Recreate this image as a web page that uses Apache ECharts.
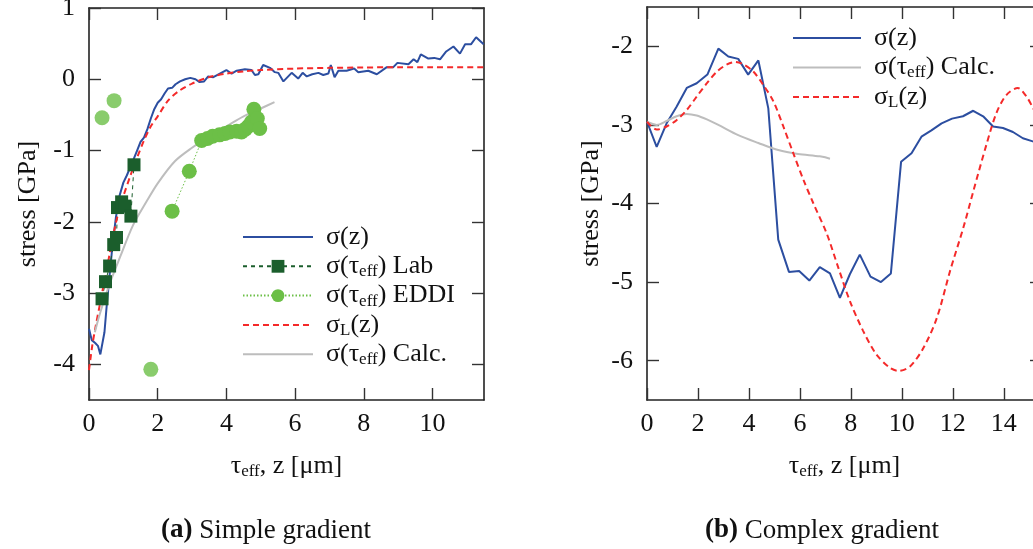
<!DOCTYPE html>
<html><head><meta charset="utf-8">
<script src="https://cdn.jsdelivr.net/npm/echarts@6/dist/echarts.min.js"></script>
<style>html,body{margin:0;padding:0;background:#fff}#c{width:1033px;height:549px}</style>
</head><body><div id="c"></div>
<script>
// ---------- Panel (a): Simple gradient ----------
const aTicksX = [0, 2, 4, 6, 8, 10];
const aTicksY = [-4, -3, -2, -1, 0, 1];

const aSigZx = [0,0.08,0.18,0.26,0.33,0.45,0.52,0.6,0.68,0.78,0.88,1.0,1.1,1.25,1.4,1.5,1.6,1.7,1.8,1.9,2.0,2.1,2.2,2.3,2.42,2.52,2.65,2.8,2.95,3.1,3.22,3.35,3.47,3.62,3.81,4.0,4.15,4.3,4.54,4.73,4.83,4.93,5.07,5.27,5.41,5.51,5.66,5.9,6.09,6.22,6.34,6.5,6.68,6.82,6.97,7.04,7.15,7.26,7.5,7.72,7.84,8.13,8.38,8.67,8.86,8.98,9.3,9.45,9.56,9.66,9.88,10.05,10.22,10.4,10.61,10.8,10.95,11.12,11.27,11.49];
const aSigZy = [-3.5,-3.66,-3.7,-3.74,-3.86,-3.55,-3.15,-2.75,-2.35,-1.95,-1.65,-1.45,-1.35,-1.18,-1.0,-0.88,-0.82,-0.7,-0.55,-0.42,-0.33,-0.28,-0.2,-0.13,-0.12,-0.07,-0.03,0.0,0.02,0.0,-0.04,-0.03,0.04,0.03,0.08,0.13,0.08,0.12,0.14,0.13,0.06,0.07,0.2,0.16,0.1,0.09,-0.03,0.09,0.01,0.09,0.04,0.07,0.09,0.06,0.08,0.2,0.03,0.12,0.12,0.15,0.1,0.12,0.07,0.17,0.17,0.23,0.21,0.28,0.24,0.35,0.29,0.3,0.28,0.39,0.46,0.36,0.49,0.49,0.59,0.49];

const aLabX = [0.38,0.48,0.6,0.72,0.8,0.83,0.95,1.05,1.22,1.31];
const aLabY = [-3.08,-2.84,-2.62,-2.32,-2.22,-1.8,-1.72,-1.78,-1.92,-1.2];

const aEddiX = [2.42,2.92,3.28,3.45,3.6,3.8,3.96,4.1,4.3,4.44,4.55,4.64,4.73,4.8,4.9,4.97];
const aEddiY = [-1.85,-1.29,-0.86,-0.83,-0.8,-0.78,-0.76,-0.74,-0.73,-0.74,-0.7,-0.66,-0.6,-0.42,-0.55,-0.69];
const aEddiOutX = [0.38,0.73,1.8];
const aEddiOutY = [-0.54,-0.3,-4.07];

const aSigLx = [0,0.1,0.2,0.3,0.4,0.5,0.6,0.7,0.8,0.9,1.0,1.2,1.4,1.6,1.8,2.0,2.3,2.6,3.0,3.5,4.0,4.5,5,6,7,8,9,10,11.5];
const aSigLy = [-4.08,-3.72,-3.45,-3.2,-2.95,-2.72,-2.45,-2.2,-1.98,-1.8,-1.64,-1.36,-1.1,-0.86,-0.66,-0.52,-0.3,-0.17,-0.06,0.03,0.08,0.11,0.13,0.15,0.16,0.165,0.17,0.17,0.17];

const aCalcX = [0.17,0.31,0.6,0.9,1.28,1.67,2.0,2.5,3.0,3.5,4.0,4.5,5.0,5.4];
const aCalcY = [-3.55,-3.3,-2.87,-2.5,-2.05,-1.72,-1.46,-1.15,-0.96,-0.8,-0.66,-0.52,-0.41,-0.32];

// ---------- Panel (b): Complex gradient ----------
const bTicksX = [0, 2, 4, 6, 8, 10, 12, 14];
const bTicksY = [-6, -5, -4, -3, -2];

const bSigZx = [0,0.38,0.77,1.16,1.56,1.95,2.37,2.8,3.19,3.58,3.97,4.37,4.76,5.15,5.57,5.97,6.37,6.78,7.18,7.57,7.96,8.35,8.77,9.18,9.57,9.97,10.38,10.77,11.16,11.56,11.97,12.4,12.8,13.19,13.58,13.97,14.36,14.75,15.14,15.5];
const bSigZy = [-2.96,-3.28,-2.98,-2.77,-2.53,-2.47,-2.36,-2.03,-2.13,-2.16,-2.36,-2.18,-2.79,-4.46,-4.87,-4.86,-4.98,-4.81,-4.89,-5.2,-4.9,-4.65,-4.93,-5.0,-4.89,-3.47,-3.36,-3.15,-3.07,-2.98,-2.92,-2.89,-2.82,-2.89,-3.02,-3.04,-3.09,-3.17,-3.21,-3.25];

const bCalcX = [0,0.38,0.77,1.16,1.56,1.95,2.35,2.8,3.58,4.37,5.15,5.93,6.78,7.18];
const bCalcY = [-2.96,-3.0,-2.95,-2.89,-2.86,-2.88,-2.93,-3.0,-3.13,-3.23,-3.32,-3.37,-3.4,-3.43];

const bSigLx = [0,0.38,0.77,1.16,1.56,1.95,2.35,2.75,3.14,3.46,3.78,4.17,4.56,4.96,5.35,5.74,6.14,6.53,7.05,7.5,7.96,8.48,9.0,9.53,9.86,10.33,10.86,11.38,11.9,12.42,12.8,13.32,13.71,14.1,14.55,14.89,15.14,15.5];
const bSigLy = [-2.96,-3.06,-3.02,-2.94,-2.81,-2.64,-2.47,-2.32,-2.23,-2.2,-2.23,-2.32,-2.49,-2.7,-3.02,-3.36,-3.7,-4.0,-4.38,-4.81,-5.24,-5.62,-5.92,-6.09,-6.13,-6.07,-5.83,-5.45,-4.85,-4.3,-3.85,-3.25,-2.85,-2.62,-2.53,-2.64,-2.78,-3.0];

// ---------- names ----------
const N_Z = 'σ(z)', N_LAB = 'σ(τeff) Lab', N_EDDI = 'σ(τeff) EDDI', N_L = 'σL(z)', N_CALC = 'σ(τeff) Calc.';
const legendRich = {
  [N_Z]: 'σ(z)',
  [N_LAB]: 'σ(τ{s|eff}) Lab',
  [N_EDDI]: 'σ(τ{s|eff}) EDDI',
  [N_L]: 'σ{s|L}(z)',
  [N_CALC]: 'σ(τ{s|eff}) Calc.'
};

const FONT = '"Liberation Serif", "DejaVu Serif", serif';
const FS = 26;
const TXT = '#111';
const C_BLUE = '#2c4ea0', C_RED = '#f42a2a', C_GRAY = '#bdbdbd', C_DG = '#1b5e2c', C_LG = '#6cbf47';

const zip = (xs, ys) => xs.map((x, i) => [x, ys[i]]);
const subRich = {
  a: { fontFamily: FONT, fontSize: FS, lineHeight: 28, color: TXT },
  s: { fontFamily: FONT, fontSize: 17, lineHeight: 15, verticalAlign: 'bottom', color: TXT }
};
const boxLine = { show: true, onZero: false, lineStyle: { color: '#222', width: 1.6 } };
const tickStyle = { color: '#333', width: 1.4 };

function xAxisPair(gi, max, ticks) {
  const common = {
    type: 'value', gridIndex: gi, min: 0, max: max,
    axisLine: boxLine, splitLine: { show: false }
  };
  return [
    Object.assign({}, common, {
      position: 'bottom',
      axisTick: { show: true, inside: true, length: 12, customValues: ticks, lineStyle: tickStyle },
      axisLabel: { show: true, customValues: ticks, fontFamily: FONT, fontSize: FS, color: TXT, margin: 11 },
      name: '{a|τ}{s|eff}{a|, z [μm]}', nameLocation: 'middle', nameGap: 52,
      nameTextStyle: { fontFamily: FONT, fontSize: FS, color: TXT, rich: subRich }
    }),
    Object.assign({}, common, {
      position: 'top',
      axisTick: { show: true, inside: true, length: 12, customValues: ticks, lineStyle: tickStyle },
      axisLabel: { show: false }
    })
  ];
}
function yAxisPair(gi, min, max, ticks, nameGap) {
  const common = {
    type: 'value', gridIndex: gi, min: min, max: max,
    axisLine: boxLine, splitLine: { show: false }
  };
  return [
    Object.assign({}, common, {
      position: 'left',
      axisTick: { show: true, inside: true, length: 12, customValues: ticks, lineStyle: tickStyle },
      axisLabel: { show: true, customValues: ticks, fontFamily: FONT, fontSize: FS, color: TXT, margin: 14 },
      name: 'stress [GPa]', nameLocation: 'middle', nameGap: nameGap,
      nameTextStyle: { fontFamily: FONT, fontSize: FS, color: TXT }
    }),
    Object.assign({}, common, {
      position: 'right',
      axisTick: { show: true, inside: true, length: 12, customValues: ticks, lineStyle: tickStyle },
      axisLabel: { show: false }
    })
  ];
}

const legendText = { fontFamily: FONT, fontSize: FS, color: TXT, lineHeight: 28, padding: [0, 0, 0, 8], rich: subRich };

const captionStyle = { fontFamily: FONT, fontSize: 27, fontWeight: 'normal', color: TXT,
  rich: { b: { fontFamily: FONT, fontSize: 27, fontWeight: 'bold', color: TXT } } };

const option = {
  animation: false,
  backgroundColor: '#fff',
  title: [
    { text: '{b|(a)} Simple gradient', left: 161, top: 517, padding: 0, textStyle: captionStyle },
    { text: '{b|(b)} Complex gradient', left: 705, top: 517, padding: 0, textStyle: captionStyle }
  ],
  grid: [
    { left: 89, top: 8, width: 395, height: 392, outerBoundsMode: 'none' },
    { left: 647, top: 7, width: 395, height: 393, outerBoundsMode: 'none' }
  ],
  xAxis: [].concat(xAxisPair(0, 11.5, aTicksX), xAxisPair(1, 15.5, bTicksX)),
  yAxis: [].concat(yAxisPair(0, -4.5, 1, aTicksY, 48), yAxisPair(1, -6.5, -1.5, bTicksY, 43)),
  legend: [
    { left: 242, top: 223, padding: 0, orient: 'vertical', itemWidth: 70, itemHeight: 16, itemGap: 1.3,
      selectedMode: false, textStyle: legendText,
      formatter: n => legendRich[n],
      data: [
        { name: N_Z, itemStyle: { opacity: 0 } },
        { name: N_LAB },
        { name: N_EDDI },
        { name: N_L, itemStyle: { opacity: 0 } },
        { name: N_CALC, itemStyle: { opacity: 0 } }
      ] },
    { left: 792, top: 24, padding: 0, orient: 'vertical', itemWidth: 68, itemHeight: 16, itemGap: 1.5,
      selectedMode: false, textStyle: legendText,
      formatter: n => legendRich[n],
      data: [
        { name: N_Z, itemStyle: { opacity: 0 } },
        { name: N_CALC, itemStyle: { opacity: 0 } },
        { name: N_L, itemStyle: { opacity: 0 } }
      ] }
  ],
  series: [
    // panel (a)
    { name: N_Z, type: 'line', xAxisIndex: 0, yAxisIndex: 0, data: zip(aSigZx, aSigZy),
      symbol: 'none', lineStyle: { color: C_BLUE, width: 2 }, itemStyle: { color: C_BLUE } },
    { name: N_LAB, type: 'line', xAxisIndex: 0, yAxisIndex: 0, data: zip(aLabX, aLabY),
      symbol: 'rect', symbolSize: 13, lineStyle: { color: C_DG, width: 1, type: [4, 4] }, itemStyle: { color: C_DG } },
    { name: N_EDDI, type: 'line', xAxisIndex: 0, yAxisIndex: 0, data: zip(aEddiX, aEddiY),
      symbol: 'circle', symbolSize: 15, lineStyle: { color: C_LG, width: 1, type: [1.5, 2] }, itemStyle: { color: C_LG } },
    { name: N_EDDI, type: 'scatter', xAxisIndex: 0, yAxisIndex: 0, data: zip(aEddiOutX, aEddiOutY),
      symbol: 'circle', symbolSize: 15, itemStyle: { color: C_LG } },
    { name: N_L, type: 'line', xAxisIndex: 0, yAxisIndex: 0, data: zip(aSigLx, aSigLy),
      symbol: 'none', smooth: 0.3, lineStyle: { color: C_RED, width: 2, type: [6, 4] }, itemStyle: { color: C_RED } },
    { name: N_CALC, type: 'line', xAxisIndex: 0, yAxisIndex: 0, data: zip(aCalcX, aCalcY),
      symbol: 'none', smooth: 0.3, lineStyle: { color: C_GRAY, width: 2 }, itemStyle: { color: C_GRAY } },
    // panel (b)
    { name: N_Z, type: 'line', xAxisIndex: 2, yAxisIndex: 2, data: zip(bSigZx, bSigZy),
      symbol: 'none', lineStyle: { color: C_BLUE, width: 2 }, itemStyle: { color: C_BLUE } },
    { name: N_CALC, type: 'line', xAxisIndex: 2, yAxisIndex: 2, data: zip(bCalcX, bCalcY),
      symbol: 'none', smooth: 0.3, lineStyle: { color: C_GRAY, width: 2 }, itemStyle: { color: C_GRAY } },
    { name: N_L, type: 'line', xAxisIndex: 2, yAxisIndex: 2, data: zip(bSigLx, bSigLy),
      symbol: 'none', smooth: 0.3, lineStyle: { color: C_RED, width: 2, type: [6, 4] }, itemStyle: { color: C_RED } }
  ]
};

const chart = echarts.init(document.getElementById('c'), null, { renderer: 'canvas' });
chart.setOption(option);
</script>
</body></html>
